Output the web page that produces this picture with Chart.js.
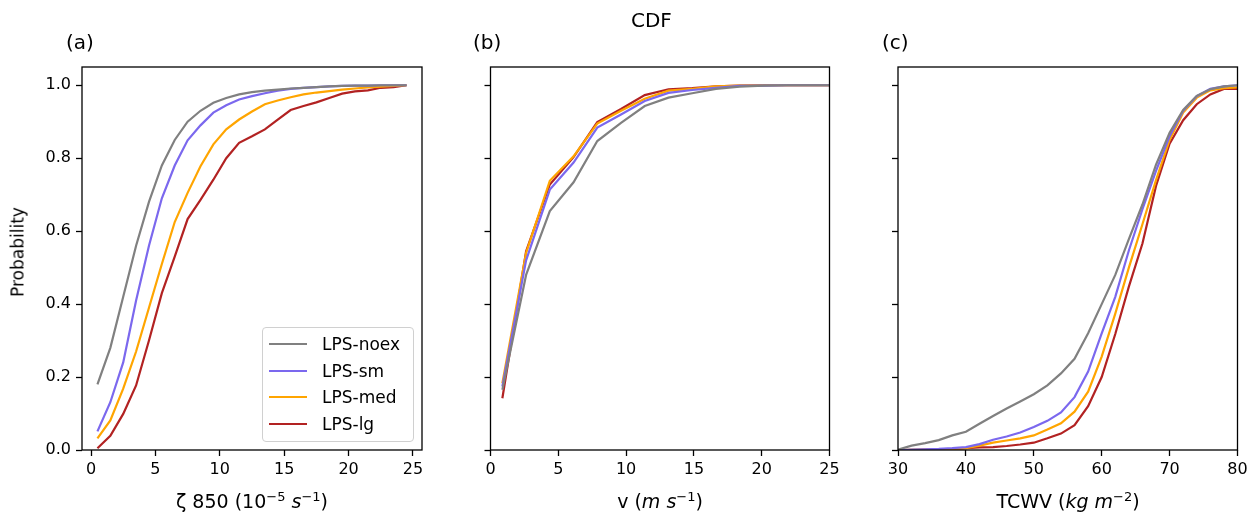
<!DOCTYPE html>
<html>
<head>
<meta charset="utf-8">
<script src="https://cdn.jsdelivr.net/npm/chart.js@4"></script>
<style>
  body { margin: 0; background: #fff; font-family: "DejaVu Sans", sans-serif; }
  #fig { position: relative; width: 1257px; height: 512px; overflow: hidden; }
  canvas { position: absolute; top: 0; }
  .txt { position: absolute; white-space: nowrap; color: #000; line-height: 1; }
  .xlab { font-size: 19px; transform: translateX(-50%); }
  .ttl { font-size: 20px; }
  #legend { position: absolute; left: 262px; top: 327px; width: 150px; height: 113px;
            border: 1px solid #d0d0d0; border-radius: 4px; background: rgba(255,255,255,0.8); }
  .leg-row { position: absolute; left: 0; height: 20px; width: 150px; }
  .leg-line { position: absolute; left: 6px; width: 38px; height: 2px; top: 9px; }
  .leg-text { position: absolute; left: 59px; top: 0; font-size: 17px; line-height: 20px; white-space: nowrap; }
</style>
</head>
<body>
<div id="fig">
  <canvas id="chart-a" width="440" height="512" style="left:0px"></canvas>
  <canvas id="chart-b" width="410" height="512" style="left:440px"></canvas>
  <canvas id="chart-c" width="407" height="512" style="left:850px"></canvas>

  <div class="txt ttl" style="left:631px; top:10px;">CDF</div>
  <div class="txt ttl" style="left:66px; top:32px;">(a)</div>
  <div class="txt ttl" style="left:473px; top:32px;">(b)</div>
  <div class="txt ttl" style="left:882px; top:32px;">(c)</div>

  <div class="txt xlab" style="left:252px; top:490px;">ζ 850 (10<sup style="font-size:13px">−5</sup> <i>s</i><sup style="font-size:13px">−1</sup>)</div>
  <div class="txt xlab" style="left:660px; top:490px;">v (<i>m s</i><sup style="font-size:13px">−1</sup>)</div>
  <div class="txt xlab" style="left:1068px; top:490px;">TCWV (<i>kg m</i><sup style="font-size:13px">−2</sup>)</div>

  <div class="txt" style="left:18px; top:252px; font-size:17px; transform: translate(-50%,-50%) rotate(-90deg);">Probability</div>

  <div id="legend"></div>
</div>

<script>
// Series names and colours (same order in every panel)
const seriesNames = ['LPS-noex', 'LPS-sm', 'LPS-med', 'LPS-lg'];
const seriesColors = ['#808080', '#7b68ee', '#ffa500', '#b22222'];

// (a) 850 hPa vorticity
const vortX = [0.5, 1.5, 2.5, 3.5, 4.5, 5.5, 6.5, 7.5, 8.5, 9.5, 10.5, 11.5, 12.5,
               13.5, 14.5, 15.5, 16.5, 17.5, 18.5, 19.5, 20.5, 21.5, 22.5, 23.5, 24.5];
const vortNoex = [0.18, 0.28, 0.42, 0.56, 0.68, 0.78, 0.85, 0.90, 0.93, 0.952, 0.965, 0.975, 0.981,
                  0.985, 0.988, 0.991, 0.993, 0.995, 0.997, 0.998, 0.999, 0.999, 1.0, 1.0, 1.0];
const vortSm = [0.051, 0.131, 0.24, 0.41, 0.56, 0.69, 0.78, 0.849, 0.89, 0.925, 0.945, 0.961, 0.97,
                0.978, 0.985, 0.99, 0.993, 0.995, 0.997, 0.998, 0.999, 0.999, 1.0, 1.0, 1.0];
const vortMed = [0.032, 0.081, 0.168, 0.27, 0.39, 0.51, 0.625, 0.705, 0.778, 0.838, 0.879, 0.906, 0.928,
                 0.948, 0.958, 0.967, 0.975, 0.98, 0.984, 0.988, 0.991, 0.994, 0.996, 0.998, 1.0];
const vortLg = [0.005, 0.039, 0.099, 0.177, 0.30, 0.43, 0.53, 0.633, 0.686, 0.741, 0.80, 0.842, 0.86,
                0.879, 0.906, 0.932, 0.943, 0.953, 0.965, 0.977, 0.983, 0.986, 0.993, 0.995, 1.0];

// (b) wind speed
const windX = [0.875, 2.625, 4.375, 6.125, 7.875, 9.625, 11.375, 13.125, 14.875,
               16.625, 18.375, 20.125, 21.875, 23.625, 25.375];
const windNoex = [0.165, 0.48, 0.655, 0.734, 0.847, 0.897, 0.943, 0.966, 0.978, 0.99, 0.996, 0.999, 1, 1, 1];
const windSm = [0.174, 0.52, 0.714, 0.788, 0.884, 0.92, 0.957, 0.979, 0.987, 0.993, 0.998, 0.999, 1, 1, 1];
const windMed = [0.183, 0.54, 0.738, 0.805, 0.895, 0.93, 0.963, 0.985, 0.99, 0.997, 0.999, 1, 1, 1, 1];
const windLg = [0.142, 0.545, 0.728, 0.803, 0.899, 0.935, 0.973, 0.989, 0.992, 0.997, 0.999, 1, 1, 1, 1];

// (c) total column water vapour
const tcwvX = [30, 32, 34, 36, 38, 40, 42, 44, 46, 48, 50, 52, 54,
               56, 58, 60, 62, 64, 66, 68, 70, 72, 74, 76, 78, 80];
const tcwvNoex = [0.001, 0.012, 0.019, 0.027, 0.040, 0.050, 0.072, 0.093, 0.114, 0.133, 0.153, 0.177, 0.21,
                  0.25, 0.32, 0.40, 0.48, 0.578, 0.673, 0.782, 0.87, 0.932, 0.971, 0.989, 0.997, 1.0];
const tcwvSm = [0.0, 0.001, 0.002, 0.003, 0.005, 0.008, 0.016, 0.028, 0.037, 0.048, 0.063, 0.080, 0.103,
                0.145, 0.215, 0.32, 0.42, 0.547, 0.66, 0.765, 0.86, 0.93, 0.97, 0.99, 0.997, 1.0];
const tcwvMed = [0.0, 0.001, 0.001, 0.002, 0.003, 0.005, 0.012, 0.020, 0.026, 0.032, 0.040, 0.056, 0.073,
                 0.105, 0.16, 0.256, 0.374, 0.50, 0.619, 0.74, 0.85, 0.925, 0.966, 0.986, 0.992, 0.994];
const tcwvLg = [0.0, 0.0, 0.001, 0.002, 0.003, 0.005, 0.007, 0.008, 0.011, 0.015, 0.020, 0.032, 0.045,
                0.068, 0.12, 0.20, 0.318, 0.448, 0.566, 0.724, 0.84, 0.904, 0.948, 0.975, 0.99, 0.99];

// Tick labels
const vortTicks = [0, 5, 10, 15, 20, 25];
const windTicks = [0, 5, 10, 15, 20, 25];
const tcwvTicks = [30, 40, 50, 60, 70, 80];
const probTicks = [0, 0.2, 0.4, 0.6, 0.8, 1.0];

Chart.defaults.font.family = '"DejaVu Sans", sans-serif';
Chart.defaults.font.size = 16;
Chart.defaults.color = '#000';

// draws the full axes box (all four spines)
const frame = {
    id: 'frame',
    afterDatasetsDraw(chart) {
        const a = chart.chartArea;
        const ctx = chart.ctx;
        ctx.save();
        ctx.strokeStyle = '#000';
        ctx.lineWidth = 1.3;
        ctx.strokeRect(a.left, a.top, a.right - a.left, a.bottom - a.top);
        ctx.restore();
    }
};

function makePanel(id, xs, ys, xMin, xMax, xTicks, yLabels, yWidth, rightPad) {
    const datasets = ys.map((vals, i) => ({
        label: seriesNames[i],
        data: xs.map((x, j) => ({ x: x, y: vals[j] })),
        borderColor: seriesColors[i],
        borderWidth: 2.2,
        pointRadius: 0,
        fill: false,
        tension: 0
    }));

    const tickGrid = {
        drawOnChartArea: false,
        drawTicks: true,
        tickLength: 6,
        tickWidth: 1.3,
        tickColor: '#000'
    };

    return new Chart(document.getElementById(id), {
        type: 'line',
        data: { datasets: datasets },
        options: {
            responsive: false,
            animation: false,
            layout: { padding: { top: 67, right: rightPad, left: 0, bottom: 0 } },
            plugins: { legend: { display: false }, tooltip: { enabled: false } },
            scales: {
                x: {
                    type: 'linear',
                    min: xMin,
                    max: xMax,
                    border: { display: false },
                    grid: tickGrid,
                    ticks: { autoSkip: false, maxRotation: 0, padding: 4 },
                    afterBuildTicks: s => { s.ticks = xTicks.map(v => ({ value: v })); },
                    afterFit: s => { s.height = 62; }
                },
                y: {
                    type: 'linear',
                    min: 0,
                    max: 1.05,
                    border: { display: false },
                    grid: tickGrid,
                    ticks: {
                        autoSkip: false,
                        padding: 5,
                        color: yLabels ? '#000' : 'rgba(0,0,0,0)',
                        callback: v => v.toFixed(1)
                    },
                    afterBuildTicks: s => { s.ticks = probTicks.map(v => ({ value: v })); },
                    afterFit: s => { s.width = yWidth; }
                }
            }
        },
        plugins: [frame]
    });
}

makePanel('chart-a', vortX, [vortNoex, vortSm, vortMed, vortLg], -0.7, 25.7, vortTicks, true, 82, 18);
makePanel('chart-b', windX, [windNoex, windSm, windMed, windLg], 0, 25, windTicks, false, 50.5, 20.5);
makePanel('chart-c', tcwvX, [tcwvNoex, tcwvSm, tcwvMed, tcwvLg], 30, 80, tcwvTicks, false, 48, 19.5);

// Legend inside panel (a)
const legend = document.getElementById('legend');
seriesNames.forEach((name, i) => {
    const row = document.createElement('div');
    row.className = 'leg-row';
    row.style.top = (6 + i * 26.7) + 'px';
    row.innerHTML = '<div class="leg-line" style="background:' + seriesColors[i] + '"></div>' +
                    '<div class="leg-text">' + name + '</div>';
    legend.appendChild(row);
});
</script>
</body>
</html>
